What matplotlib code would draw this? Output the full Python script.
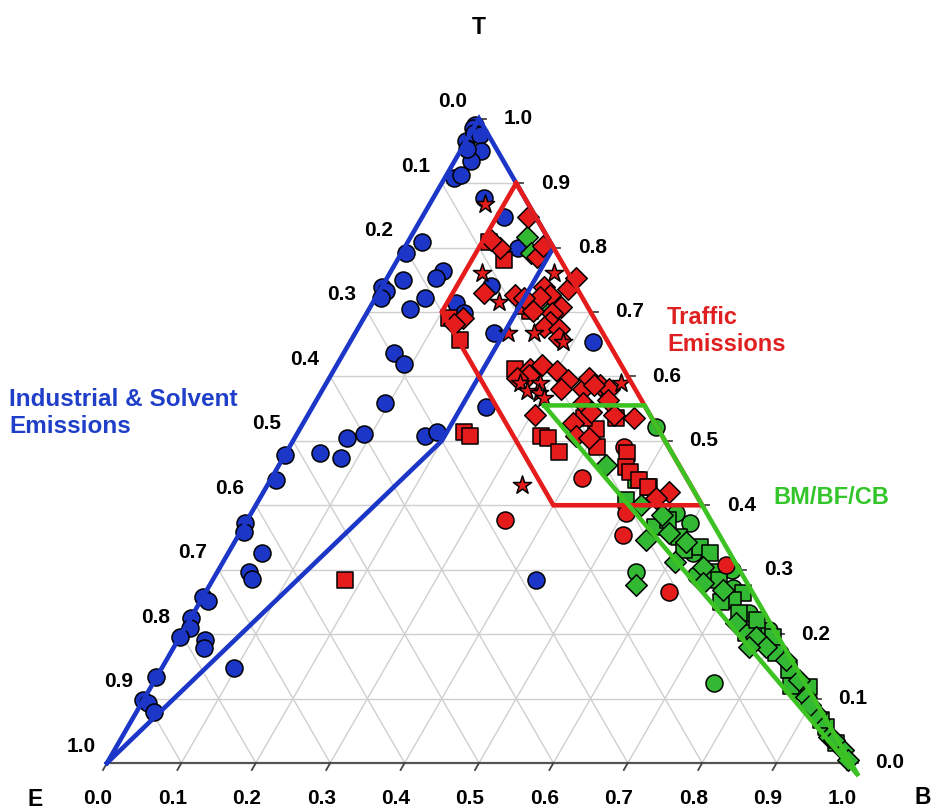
import numpy as np
import matplotlib
matplotlib.use('Agg')
import matplotlib.pyplot as plt

plt.rcParams['font.family'] = ['Liberation Sans', 'DejaVu Sans']
plt.rcParams['font.weight'] = 'bold'

# ternary data as (B, T) fractions, E = 1 - B - T
blue_circ = [(0.00, 0.99), (0.00, 0.985), (0.00, 0.965), (0.005, 0.977), (0.015, 0.974),
             (0.028, 0.95), (0.022, 0.935), (0.007, 0.953), (0.012, 0.908), (0.020, 0.912),
             (0.068, 0.877), (0.110, 0.848), (0.153, 0.800), (0.019, 0.808), (0.006, 0.791),
             (0.070, 0.764), (0.066, 0.752), (0.024, 0.749), (0.0, 0.738), (0.009, 0.733),
             (0.007, 0.722), (0.066, 0.722), (0.055, 0.705), (0.112, 0.714), (0.130, 0.699),
             (0.146, 0.741), (0.187, 0.667), (0.327, 0.653), (0.067, 0.637), (0.089, 0.620),
             (0.094, 0.558), (0.070, 0.505), (0.091, 0.510), (0.046, 0.481), (0.078, 0.474),
             (0.173, 0.508), (0.187, 0.513), (0.234, 0.552), (0.0, 0.478), (0.007, 0.439),
             (0.0, 0.372), (0.005, 0.358), (0.045, 0.326), (0.043, 0.296), (0.052, 0.285),
             (0.0, 0.257), (0.010, 0.251), (0.0, 0.225), (0.007, 0.209), (0.0, 0.195),
             (0.036, 0.191), (0.041, 0.178), (0.097, 0.147), (0.0, 0.133), (0.0, 0.098),
             (0.009, 0.093), (0.024, 0.079), (0.435, 0.284)]

red_sq = [(0.178, 0.284), (0.146, 0.656), (0.115, 0.690), (0.223, 0.513), (0.234, 0.507),
          (0.242, 0.612), (0.330, 0.508), (0.341, 0.504), (0.367, 0.482), (0.398, 0.519),
          (0.413, 0.490), (0.458, 0.481), (0.468, 0.459), (0.477, 0.451), (0.373, 0.535),
          (0.416, 0.536), (0.109, 0.808), (0.143, 0.780), (0.217, 0.702), (0.206, 0.710),
          (0.496, 0.439), (0.513, 0.428)]

red_dia = [(0.143, 0.847), (0.128, 0.800), (0.110, 0.811), (0.185, 0.785), (0.185, 0.803),
           (0.142, 0.729), (0.185, 0.726), (0.218, 0.738), (0.232, 0.726), (0.220, 0.723),
           (0.252, 0.736), (0.257, 0.707), (0.249, 0.698), (0.253, 0.684), (0.249, 0.676),
           (0.270, 0.674), (0.278, 0.660), (0.222, 0.702), (0.200, 0.721), (0.255, 0.752),
           (0.134, 0.690), (0.126, 0.682), (0.262, 0.612), (0.276, 0.617), (0.300, 0.609),
           (0.323, 0.594), (0.320, 0.581), (0.349, 0.581), (0.350, 0.597), (0.369, 0.586),
           (0.384, 0.581), (0.361, 0.558), (0.305, 0.540), (0.363, 0.527), (0.379, 0.544),
           (0.412, 0.540), (0.441, 0.536), (0.377, 0.508), (0.396, 0.504), (0.546, 0.420),
           (0.533, 0.411), (0.266, 0.602), (0.252, 0.597), (0.392, 0.563), (0.362, 0.586)]

red_star = [(0.074, 0.867), (0.123, 0.761), (0.221, 0.760), (0.169, 0.715), (0.206, 0.667),
            (0.240, 0.667), (0.286, 0.653), (0.260, 0.589), (0.275, 0.578), (0.287, 0.589),
            (0.293, 0.575), (0.305, 0.566), (0.397, 0.589), (0.342, 0.431)]

red_circ = [(0.346, 0.377), (0.417, 0.442), (0.450, 0.490), (0.504, 0.388), (0.517, 0.354),
            (0.623, 0.265), (0.678, 0.307)]

green_circ = [(0.478, 0.521), (0.563, 0.296), (0.754, 0.124), (0.571, 0.388), (0.597, 0.372),
              (0.625, 0.326), (0.706, 0.271), (0.747, 0.233), (0.787, 0.206), (0.646, 0.292),
              (0.870, 0.113), (0.690, 0.300), (0.820, 0.170)]

green_sq = [(0.492, 0.439), (0.515, 0.428), (0.553, 0.366), (0.566, 0.377), (0.594, 0.350),
            (0.629, 0.335), (0.647, 0.326), (0.667, 0.296), (0.680, 0.284), (0.723, 0.264),
            (0.715, 0.253), (0.733, 0.233), (0.758, 0.202), (0.798, 0.195), (0.814, 0.171),
            (0.845, 0.144), (0.885, 0.118), (0.939, 0.056), (0.965, 0.031), (0.494, 0.408),
            (0.762, 0.222), (0.926, 0.067), (0.610, 0.330), (0.700, 0.250), (0.860, 0.120)]

green_dia = [(0.156, 0.816), (0.174, 0.792), (0.245, 0.705), (0.440, 0.462), (0.573, 0.276),
             (0.577, 0.357), (0.607, 0.343), (0.607, 0.312), (0.649, 0.304), (0.694, 0.268),
             (0.662, 0.279), (0.737, 0.217), (0.775, 0.195), (0.796, 0.180), (0.773, 0.180),
             (0.833, 0.160), (0.866, 0.129), (0.888, 0.102), (0.914, 0.078), (0.950, 0.040),
             (0.979, 0.020), (0.994, 0.005), (0.518, 0.400), (0.553, 0.385), (0.552, 0.346),
             (0.900, 0.090), (0.960, 0.035)]

# source region outlines (B, T)
industrial_poly = [(0.0, 0.0), (0.0, 1.0), (0.2, 0.8), (0.2, 0.5), (0.0, 0.0)]
traffic_poly = [(0.1, 0.9), (0.6, 0.4), (0.4, 0.4), (0.1, 0.7), (0.1, 0.9)]
biomass_poly = [(0.31, 0.555), (0.445, 0.555), (1.02, -0.02), (0.31, 0.555)]

ticks = np.round(np.arange(0, 1.01, 0.1), 1)

BLUE = '#1c36c8'
RED = '#e51c1c'
GREEN = '#3cc323'
GFILL = '#33b833'

H = np.sqrt(3) / 2
PX = 1 / 744


def tern(pts):
    a = np.asarray(pts, float)
    b, t = a[:, 0], a[:, 1]
    return b + t / 2, t * H


fig = plt.figure(figsize=(9.33, 8.1), dpi=100)
ax = fig.add_axes([0, 0, 1, 1])
ax.set_xlim(-107 * PX, (933 - 107) * PX)
ax.set_ylim(-(810 - 763) * PX, 763 * PX)
ax.axis('off')

# grid
gc = '#cfcfcf'
for v in ticks[1:-1]:
    x, y = tern([(0, v), (1 - v, v)])
    ax.plot(x, y, color=gc, lw=1, zorder=1)
    x, y = tern([(v, 0), (v, 1 - v)])
    ax.plot(x, y, color=gc, lw=1, zorder=1)
    x, y = tern([(0, 1 - v), (1 - v, 0)])
    ax.plot(x, y, color=gc, lw=1, zorder=1)
x, y = tern([(0, 0), (0, 1), (1, 0)])
ax.plot(x, y, color=gc, lw=1, zorder=1)
ax.plot([0, 1], [0, 0], color='#555555', lw=1.6, zorder=2)

# ticks and tick labels
for v in ticks:
    ax.plot([v, v - 4 * PX], [0, -7 * PX], color='#444444', lw=1.3, zorder=2)
    ax.text(v - 9 * PX, -35 * PX, f'{v:.1f}', ha='center', va='center', fontsize=15)
    xr, yr = 1 - v / 2, v * H
    ax.plot([xr, xr + 7 * PX], [yr, yr], color='#444444', lw=1.3, zorder=2)
    ax.text(xr + 39 * PX, yr, f'{v:.1f}', ha='center', va='center', fontsize=15)
    xl, yl = (1 - v) / 2, (1 - v) * H
    ax.text(xl - 26 * PX, yl + 17 * PX, f'{v:.1f}', ha='center', va='center', fontsize=15)

ax.text(0.5, (763 - 27) * PX, 'T', ha='center', va='center', fontsize=16.5)
ax.text(-72 * PX, -37 * PX, 'E', ha='center', va='center', fontsize=16.5)
ax.text(1 + 72 * PX, -34 * PX, 'B', ha='center', va='center', fontsize=16.5)

# points
kw = dict(edgecolors='black', linewidths=1.1, zorder=3)
ax.scatter(*tern(blue_circ), s=150, marker='o', color=BLUE, **kw)
ax.scatter(*tern(green_circ), s=150, marker='o', color=GFILL, **kw)
ax.scatter(*tern(green_sq), s=130, marker='s', color=GFILL, **kw)
ax.scatter(*tern(green_dia), s=120, marker='D', color=GFILL, **kw)
ax.scatter(*tern(red_circ), s=150, marker='o', color=RED, **kw)
ax.scatter(*tern(red_sq), s=130, marker='s', color=RED, **kw)
ax.scatter(*tern(red_dia), s=120, marker='D', color=RED, **kw)
ax.scatter(*tern(red_star), s=190, marker='*', color=RED, **kw)

# region outlines
ax.plot(*tern(industrial_poly), color=BLUE, lw=3.3, zorder=4, solid_joinstyle='miter')
ax.plot(*tern(traffic_poly), color=RED, lw=3.3, zorder=4, solid_joinstyle='miter')
ax.plot(*tern(biomass_poly), color=GREEN, lw=3.3, zorder=4, solid_joinstyle='miter')

# region labels
ax.text(-98 * PX, (763 - 413) * PX, 'Industrial & Solvent\nEmissions', color='#1f3fc9',
        fontsize=17.5, ha='left', va='center', linespacing=1.2)
ax.text((667 - 107) * PX, (763 - 331) * PX, 'Traffic\nEmissions', color='#e02020',
        fontsize=17, ha='left', va='center', linespacing=1.2)
ax.text((773 - 107) * PX, (763 - 498) * PX, 'BM/BF/CB', color='#33c52a',
        fontsize=17, ha='left', va='center')

fig.savefig('out.png', dpi=100)
